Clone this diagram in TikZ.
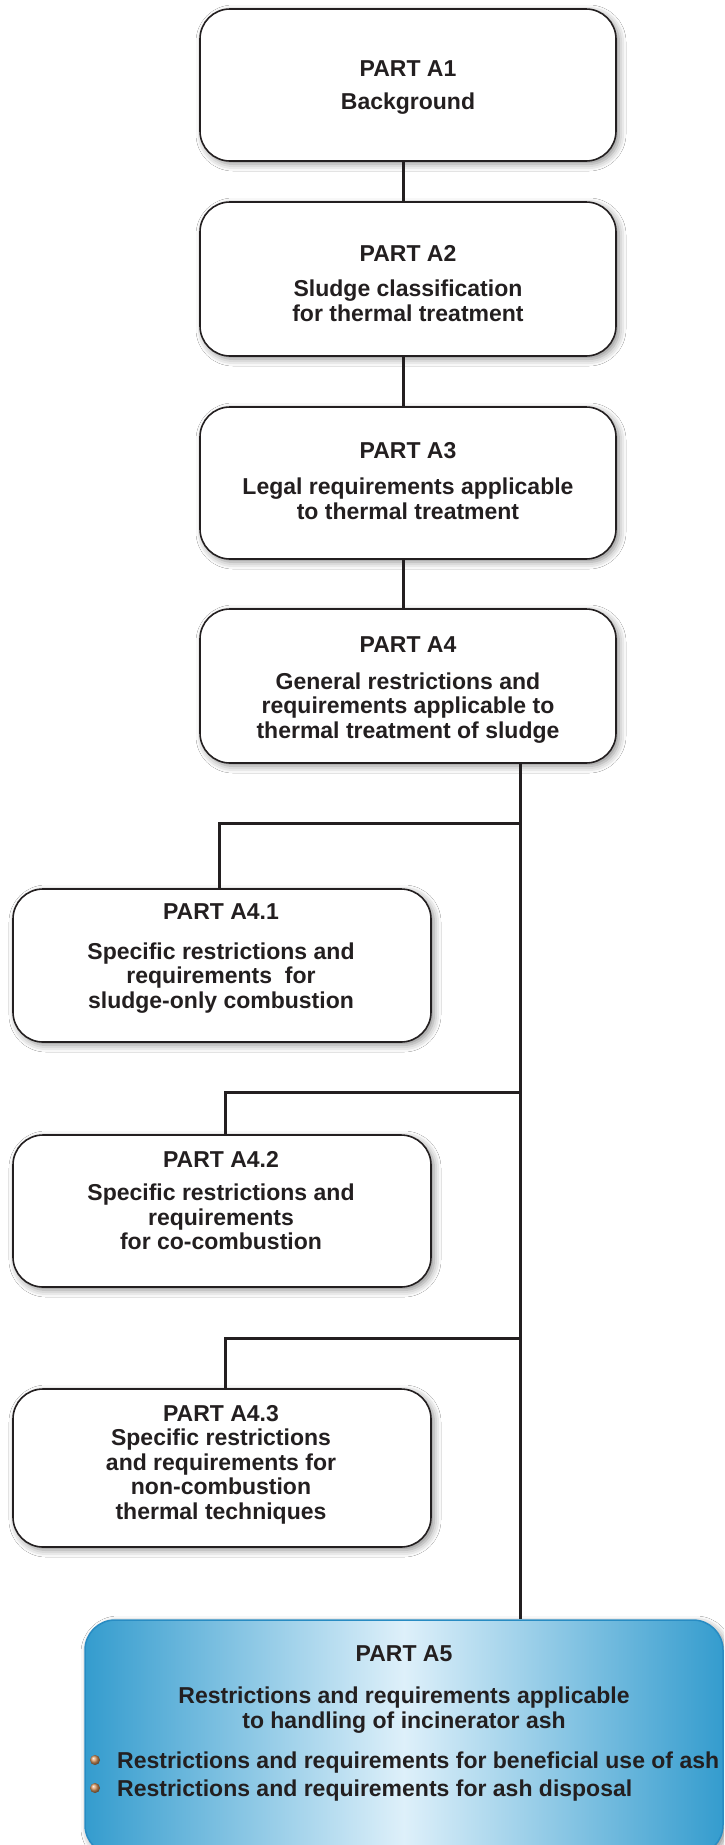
\documentclass[tikz,border=0pt]{standalone}
\usepackage{fontspec}
\setmainfont{Liberation Sans}
\usetikzlibrary{shadows.blur,calc}
\definecolor{ink}{RGB}{35,31,32}
\definecolor{aedge}{RGB}{52,156,206}
\definecolor{amid}{RGB}{222,240,250}
\definecolor{aborder}{RGB}{40,140,195}
\definecolor{bulletc}{RGB}{215,150,95}
\begin{document}
\begin{tikzpicture}[x=1pt,y=-1pt,
  box/.style={draw=ink,line width=1.6pt,rounded corners=30pt,fill=white,inner sep=0pt,
    blur shadow={shadow xshift=3pt,shadow yshift=-3pt,shadow blur radius=7pt,shadow opacity=45}},
  txt/.style={font=\fontsize{23}{24.5}\selectfont\bfseries,text=ink,align=center,inner sep=0pt},
  btxt/.style={font=\fontsize{23}{24.5}\selectfont\bfseries,text=ink,inner sep=0pt,anchor=west},
  conn/.style={draw=ink,line width=3pt},
  bulletnode/.style={circle,minimum size=10pt,inner sep=0pt,shade,ball color=bulletc}]
\useasboundingbox (0,0) rectangle (724,1845);
\fill[white] (0,0) rectangle (724,1845);
\clip (0,0) rectangle (724,1845);

% boxes
\node[box,minimum width=416pt,minimum height=152pt] (a1) at (408,85) {};
\node[box,minimum width=416pt,minimum height=154pt] (a2) at (408,279) {};
\node[box,minimum width=416pt,minimum height=152pt] (a3) at (408,483) {};
\node[box,minimum width=416pt,minimum height=154pt] (a4) at (408,686) {};
\node[box,minimum width=418pt,minimum height=153pt] (a41) at (222,965.5) {};
\node[box,minimum width=418pt,minimum height=152pt] (a42) at (222,1211) {};
\node[box,minimum width=418pt,minimum height=158pt] (a43) at (222,1468) {};
\node[draw=aborder,line width=1.5pt,rounded corners=30pt,inner sep=0pt,
  left color=aedge,right color=aedge,middle color=amid,
  minimum width=638pt,minimum height=235pt,
  blur shadow={shadow xshift=3pt,shadow yshift=-3pt,shadow blur radius=7pt,shadow opacity=45}]
  (a5) at (404,1737.5) {};

% connectors
\coordinate (tx) at (520,0);
\coordinate (j1) at (520,823);
\coordinate (j2) at (520,1092);
\coordinate (j3) at (520,1338);
\draw[conn] ([xshift=-5pt]a1.south) -- ([xshift=-5pt]a2.north);
\draw[conn] ([xshift=-5pt]a2.south) -- ([xshift=-5pt]a3.north);
\draw[conn] ([xshift=-5pt]a3.south) -- ([xshift=-5pt]a4.north);
\draw[conn] (a4.south -| tx) -- (a5.north -| tx);
\draw[conn] (j1) -| ([xshift=-3pt]a41.north);
\draw[conn] (j2) -| ([xshift=3pt]a42.north);
\draw[conn] (j3) -| ([xshift=3pt]a43.north);

% texts
\node[txt] (a1t) at (408,88) {PART A1\\[8.5pt]Background};
\node[txt] (a2t) at (408,283.5) {PART A2\\[11pt]Sludge classification\\for thermal treatment};
\node[txt] (a3t) at (408,481) {PART A3\\[11.5pt]Legal requirements applicable\\to thermal treatment};
\node[txt] (a4t) at (408,690) {PART A4\\[12pt]General restrictions and\\requirements applicable to\\thermal treatment of sludge};
\node[txt] (a41t) at (221,958.5) {PART A4.1\\[15.5pt]Specific restrictions and\\requirements\ \ for\\sludge-only combustion};
\node[txt] (a42t) at (221,1201) {PART A4.2\\[8.5pt]Specific restrictions and\\requirements\\for co-combustion};
\node[txt] (a43t) at (221,1464.5) {PART A4.3\\Specific restrictions\\and requirements for\\non-combustion\\thermal techniques};
\node[txt] (a5t) at (404,1689.4) {PART A5\\[17.5pt]Restrictions and requirements applicable\\to handling of incinerator ash};
\node[bulletnode] (b1) at (95,1760) {};
\node[bulletnode] (b2) at (95,1788) {};
\node[btxt] (b1t) at (117,1762.4) {Restrictions and requirements for beneficial use of ash};
\node[btxt] (b2t) at (117,1790.4) {Restrictions and requirements for ash disposal};
\end{tikzpicture}
\end{document}
